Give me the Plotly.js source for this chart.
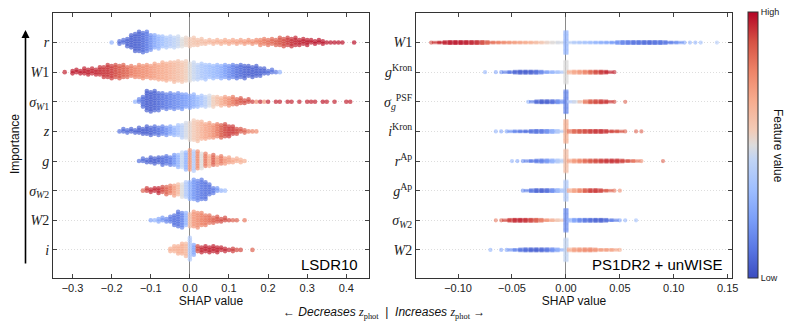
<!DOCTYPE html>
<html>
<head>
<meta charset="utf-8">
<script src="https://cdn.plot.ly/plotly-3.0.1.min.js"></script>
<style>
  html, body { margin: 0; padding: 0; background: #fff; }
  #chart { width: 793px; height: 331px; }
</style>
</head>
<body>
<div id="chart"></div>
<script>
// ---- data: binned SHAP beeswarms (bin start, dots per bin, mean feature value per bin) ----
const lsLabels = ['<i>r</i>', '<i>W</i>1', '<i>σ</i><sub><i>W</i>1</sub>', '<i>z</i>', '<i>g</i>',
                  '<i>σ</i><sub><i>W</i>2</sub>', '<i>W</i>2', '<i>i</i>'];
const lsStep = 0.01;
const lsStart = [-0.20, -0.32, -0.14, -0.18, -0.13, -0.12, -0.10, -0.05];
const lsCounts = [
  [1,0,2,2,4,6,8,9,9,9,7,6,6,5,5,5,5,5,4,4,4,4,3,3,2,2,2,2,2,2,2,2,2,2,2,2,2,2,3,3,3,3,3,4,4,4,4,4,3,3,3,2,2,2,2,1,1,1,1,1,0,0,1],
  [1,0,2,2,2,3,3,3,3,4,5,6,6,6,6,6,5,5,5,6,6,6,6,7,7,8,8,8,9,9,9,9,8,8,7,7,7,6,6,6,6,6,6,6,6,6,6,5,5,5,4,3,2,2,1,1],
  [1,2,5,9,9,9,8,7,7,7,7,7,7,6,6,6,5,5,5,5,5,4,4,4,4,4,3,3,2,2,1,1,1,1,1,0,1,1,0,1,1,0,1,0,1,1,1,0,1,1,0,1,0,0,1,1],
  [1,2,2,2,2,3,3,4,4,4,4,4,4,4,4,5,6,7,8,9,9,8,7,7,6,6,6,6,5,4,3,2,2,1,1,1],
  [1,2,2,3,3,3,4,4,4,5,6,7,8,9,9,8,7,6,5,5,4,4,3,3,2,2,2,1],
  [1,2,2,2,3,3,4,4,5,5,6,7,8,9,9,9,8,5,3,2,1,1],
  [1,1,2,2,2,3,5,7,7,6,6,7,7,6,5,4,3,3,2,2,1,1,1,0,1],
  [2,3,4,5,6,10,5,3,3,3,3,3,3,2,2,1,2,1,1,0,0,1]
];
const lsColors = [
  [0.3,0,0.08,0.08,0.06,0.05,0.05,0.06,0.08,0.12,0.18,0.25,0.3,0.34,0.38,0.4,0.43,0.46,0.5,0.53,0.56,0.58,0.6,0.6,0.62,0.63,0.64,0.65,0.66,0.67,0.68,0.68,0.7,0.7,0.72,0.73,0.75,0.76,0.78,0.8,0.82,0.84,0.86,0.88,0.9,0.92,0.94,0.95,0.96,0.96,0.97,0.97,0.98,0.98,0.98,0.98,0.98,0.98,0.98,0.98,0,0,0.98],
  [0.95,0,0.97,0.97,0.97,0.96,0.96,0.95,0.95,0.94,0.93,0.93,0.92,0.9,0.88,0.86,0.84,0.8,0.78,0.76,0.75,0.74,0.72,0.7,0.68,0.67,0.66,0.64,0.62,0.6,0.58,0.55,0.5,0.46,0.42,0.38,0.36,0.34,0.32,0.3,0.27,0.22,0.18,0.14,0.1,0.08,0.06,0.05,0.05,0.05,0.06,0.06,0.08,0.1,0.12,0.3],
  [0.3,0.15,0.08,0.05,0.05,0.06,0.08,0.1,0.12,0.14,0.16,0.18,0.2,0.22,0.25,0.28,0.32,0.36,0.42,0.48,0.55,0.6,0.65,0.7,0.75,0.8,0.85,0.88,0.9,0.9,0.92,0.75,0.95,0.7,0.95,0,0.95,0.95,0,0.95,0.95,0,0.95,0,0.95,0.95,0.95,0,0.97,0.95,0,0.95,0,0,0.95,0.95],
  [0.1,0.08,0.08,0.06,0.06,0.05,0.05,0.05,0.06,0.08,0.1,0.14,0.18,0.24,0.3,0.36,0.42,0.48,0.52,0.56,0.6,0.64,0.68,0.7,0.74,0.8,0.86,0.9,0.92,0.92,0.9,0.88,0.85,0.8,0.78,0.75],
  [0.1,0.08,0.06,0.05,0.05,0.06,0.08,0.1,0.12,0.2,0.3,0.45,0.3,0.7,0.4,0.75,0.5,0.8,0.65,0.85,0.7,0.8,0.72,0.7,0.68,0.66,0.65,0.65],
  [0.85,0.92,0.95,0.95,0.95,0.9,0.85,0.8,0.7,0.62,0.5,0.4,0.3,0.2,0.15,0.12,0.1,0.1,0.12,0.2,0.3,0.35],
  [0.25,0.3,0.25,0.2,0.15,0.12,0.1,0.1,0.15,0.3,0.6,0.72,0.75,0.78,0.8,0.82,0.85,0.88,0.9,0.9,0.9,0.85,0.85,0,0.8],
  [0.65,0.65,0.66,0.66,0.62,0.4,0.25,0.9,0.95,0.96,0.96,0.96,0.96,0.95,0.95,0.95,0.92,0.9,0.9,0,0,0.85]
];

const psLabels = ['<i>W</i>1', '<i>g</i><sup>Kron</sup>', '<i>σ</i><sub><i>g</i></sub><sup>PSF</sup>', '<i>i</i><sup>Kron</sup>',
                  '<i>r</i><sup>Ap</sup>', '<i>g</i><sup>Ap</sup>', '<i>σ</i><sub><i>W</i>2</sub>', '<i>W</i>2'];
const psStep = 0.005;
const psStart = [-0.125, -0.075, -0.035, -0.065, -0.050, -0.040, -0.065, -0.070];
const psCounts = [
  [1,2,2,3,3,3,3,3,3,3,3,2,2,2,2,2,2,2,2,2,2,2,2,2,2,19,2,2,2,2,2,2,2,2,2,3,3,3,3,3,3,3,3,3,2,2,2,1,1,1,1,0,0,1],
  [1,0,1,1,2,2,3,3,3,3,3,2,2,2,2,19,3,3,3,3,3,3,3,2,1],
  [1,2,3,3,3,3,3,19,2,2,2,3,3,3,3,2,1,0,1],
  [1,1,1,2,2,2,2,3,3,3,3,3,2,19,3,3,3,3,3,3,3,2,2,2,1,0,1,1],
  [1,1,1,2,2,3,3,3,3,3,19,3,3,3,3,3,3,3,3,3,3,2,2,2,1,0,0,0,1],
  [1,2,3,3,3,3,3,3,17,3,3,3,3,3,3,2,2,1,1],
  [1,1,2,3,3,3,3,3,3,2,2,2,2,19,3,3,3,3,3,3,3,2,2,1,1,0,1],
  [1,0,1,1,2,2,3,3,3,3,3,3,3,2,19,3,3,3,3,3,2,2,2,2,1]
];
const psColors = [
  [0.9,0.92,0.95,0.96,0.97,0.97,0.97,0.96,0.95,0.93,0.88,0.84,0.8,0.78,0.75,0.72,0.7,0.68,0.66,0.64,0.6,0.56,0.52,0.5,0.48,0.3,0.42,0.4,0.38,0.36,0.34,0.3,0.28,0.26,0.22,0.18,0.15,0.12,0.1,0.1,0.08,0.08,0.1,0.1,0.12,0.15,0.2,0.25,0.3,0.3,0.35,0,0,0.4],
  [0.3,0,0.25,0.2,0.15,0.1,0.06,0.05,0.05,0.06,0.1,0.18,0.25,0.32,0.38,0.5,0.65,0.68,0.72,0.78,0.85,0.9,0.93,0.95,0.95],
  [0.3,0.15,0.06,0.05,0.06,0.1,0.2,0.15,0.4,0.48,0.6,0.8,0.88,0.9,0.92,0.92,0.9,0,0.85],
  [0.3,0.25,0.25,0.2,0.15,0.12,0.1,0.1,0.1,0.12,0.2,0.3,0.42,0.65,0.8,0.85,0.88,0.9,0.92,0.93,0.93,0.92,0.9,0.88,0.85,0,0.85,0.85],
  [0.3,0.25,0.2,0.15,0.12,0.12,0.15,0.22,0.32,0.42,0.6,0.68,0.72,0.78,0.84,0.88,0.9,0.92,0.93,0.93,0.92,0.9,0.88,0.8,0.75,0,0,0,0.85],
  [0.2,0.15,0.1,0.06,0.06,0.1,0.2,0.35,0.4,0.66,0.7,0.78,0.88,0.92,0.92,0.9,0.85,0.8,0.75],
  [0.8,0.85,0.9,0.92,0.95,0.95,0.93,0.9,0.85,0.78,0.7,0.62,0.55,0.18,0.3,0.22,0.15,0.1,0.08,0.06,0.06,0.1,0.15,0.25,0.3,0,0.35],
  [0.3,0,0.25,0.25,0.2,0.15,0.1,0.08,0.06,0.06,0.08,0.12,0.2,0.3,0.45,0.66,0.7,0.72,0.75,0.75,0.72,0.7,0.7,0.68,0.65]
];

// ---- swarm layout ----
const coolwarm = [[0,'#3b4cc0'],[0.111,'#5a78e4'],[0.222,'#7b9ff9'],[0.333,'#9ebeff'],[0.444,'#c0d4f5'],
                  [0.5,'#dddcdc'],[0.556,'#f2cbb7'],[0.667,'#f7ac8e'],[0.778,'#ee8468'],[0.889,'#d65244'],[1,'#b40426']];

function swarm(starts, step, counts, colors, dy, stagger) {
  const x = [], y = [], c = [], n = [];
  const nRows = counts.length;
  counts.forEach((row, r) => {
    const yRow = nRows - 1 - r;
    row.forEach((cnt, j) => {
      const xv = +(starts[r] + j * step).toFixed(4);
      const shift = (stagger && cnt > 1 && j % 2) ? dy / 2 : 0;
      for (let k = 0; k < cnt; k++) {
        x.push(xv);
        y.push(yRow + (k - (cnt - 1) / 2) * dy + shift);
        c.push(colors[r][j]);
        n.push(cnt);
      }
    });
  });
  return { x, y, c, n };
}

const left = swarm(lsStart, lsStep, lsCounts, lsColors, 0.081, true);
const right = swarm(psStart, psStep, psCounts, psColors, 0.042, false);

const traceL = {
  x: left.x, y: left.y, type: 'scatter', mode: 'markers', xaxis: 'x', yaxis: 'y',
  hoverinfo: 'skip',
  marker: { size: 4.6, opacity: 0.7, color: left.c, colorscale: coolwarm, cmin: 0, cmax: 1, showscale: false }
};
// thin strips: short horizontal dashes so neighbouring bins join up; lone points stay round,
// the stacked zero column stays narrow
const traceR = {
  x: right.x, y: right.y, type: 'scatter', mode: 'markers', xaxis: 'x2', yaxis: 'y2',
  hoverinfo: 'skip',
  marker: {
    symbol: right.n.map(v => v === 1 ? 'circle' : 'line-ew'),
    size: right.n.map(v => v === 1 ? 2 : (v > 6 ? 3.6 : 6.4)),
    opacity: 0.6,
    color: right.c, colorscale: coolwarm, cmin: 0, cmax: 1,
    line: { width: 2.2, color: right.c, colorscale: coolwarm, cmin: 0, cmax: 1 },
    showscale: true,
    colorbar: {
      x: 0.9433, xanchor: 'left', xpad: 0, y: 0.16, yanchor: 'bottom', ypad: 0,
      len: 0.804, lenmode: 'fraction', thickness: 10, outlinewidth: 1, outlinecolor: '#333',
      tickvals: [0, 1], ticktext: ['Low', 'High'], ticks: '', ticklen: 0,
      tickfont: { family: 'Liberation Sans, Arial, sans-serif', size: 9, color: '#222' }
    }
  }
};

const sans = 'Liberation Sans, Arial, sans-serif';
const serif = 'Liberation Serif, Times New Roman, serif';

const yBase = {
  range: [-0.95, 8.0], domain: [0.160, 0.961], tickvals: [0, 1, 2, 3, 4, 5, 6, 7],
  ticks: 'inside', ticklen: 4, tickcolor: '#444', mirror: 'ticks', showline: true, linecolor: '#333', linewidth: 1,
  showgrid: true, gridcolor: '#d4d4d4', griddash: '1px,2px', gridwidth: 0.8, zeroline: false, fixedrange: true,
  tickfont: { family: serif, size: 14, color: '#222' }
};
const xBase = {
  ticks: 'inside', ticklen: 4, tickcolor: '#444', mirror: 'ticks', showline: true, linecolor: '#333', linewidth: 1,
  showgrid: false, zeroline: true, zerolinecolor: '#8a8a8a', zerolinewidth: 1, fixedrange: true,
  tickfont: { family: sans, size: 11, color: '#222' },
  title: { text: 'SHAP value', font: { family: sans, size: 12, color: '#111' }, standoff: 3 }
};

const layout = {
  width: 793, height: 331,
  margin: { l: 0, r: 0, t: 0, b: 0 },
  paper_bgcolor: 'white', plot_bgcolor: 'white',
  showlegend: false,
  font: { family: sans, color: '#222' },
  xaxis: Object.assign({}, xBase, { domain: [0.0668, 0.4653], range: [-0.35, 0.458], tick0: 0, dtick: 0.1, tickformat: '.1f', anchor: 'y' }),
  yaxis: Object.assign({}, yBase, { ticktext: lsLabels.slice().reverse(), anchor: 'x' }),
  xaxis2: Object.assign({}, xBase, { domain: [0.5246, 0.9231], range: [-0.139, 0.154], tick0: 0, dtick: 0.05, tickformat: '.2f', anchor: 'y2' }),
  yaxis2: Object.assign({}, yBase, { ticktext: psLabels.slice().reverse(), anchor: 'x2' }),
  annotations: [
    { text: 'Importance', xref: 'paper', yref: 'paper', x: 15 / 793, y: 1 - 144 / 331, textangle: -90,
      xanchor: 'center', yanchor: 'middle',
      showarrow: false, font: { family: sans, size: 12, color: '#111' } },
    { text: '', xref: 'paper', yref: 'paper', x: 25.5 / 793, y: 1 - 30 / 331, ax: 0, ay: 235,
      showarrow: true, arrowhead: 2, arrowsize: 1, arrowwidth: 1.6, arrowcolor: '#000' },
    { text: '← <i>Decreases</i> <span style="font-family:Liberation Serif"><i>z</i><sub>phot</sub></span>  |  <i>Increases</i> <span style="font-family:Liberation Serif"><i>z</i><sub>phot</sub></span> →',
      xref: 'paper', yref: 'paper', x: 384 / 793, y: 1 - 313 / 331, xanchor: 'center', yanchor: 'middle', showarrow: false,
      font: { family: sans, size: 12, color: '#111' } },
    { text: 'LSDR10', xref: 'paper', yref: 'paper', x: 360 / 793, y: 1 - 264 / 331, xanchor: 'right', yanchor: 'middle',
      showarrow: false, font: { family: sans, size: 15, color: '#000' } },
    { text: 'PS1DR2 + unWISE', xref: 'paper', yref: 'paper', x: 724 / 793, y: 1 - 264 / 331, xanchor: 'right', yanchor: 'middle',
      showarrow: false, font: { family: sans, size: 15, color: '#000' } },
    { text: 'Feature value', xref: 'paper', yref: 'paper', x: 778 / 793, y: 1 - 146 / 331, textangle: 90,
      xanchor: 'center', yanchor: 'middle',
      showarrow: false, font: { family: sans, size: 12, color: '#111' } }
  ]
};

Plotly.newPlot('chart', [traceL, traceR], layout, { displayModeBar: false, staticPlot: true });
</script>
</body>
</html>
